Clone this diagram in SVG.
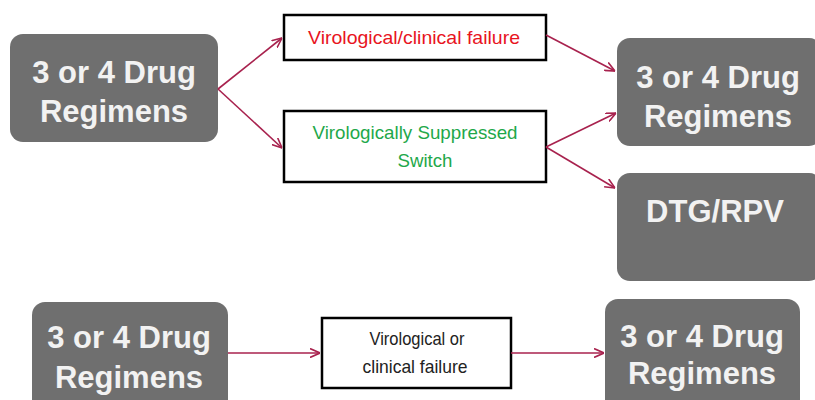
<svg xmlns="http://www.w3.org/2000/svg" width="815" height="400" viewBox="0 0 815 400">
<defs>
<style>
.node rect{fill:#6f6f6f}
.nt{font-family:"Liberation Sans",Arial,sans-serif;font-weight:bold;font-size:31px;fill:#f2f2f2;text-anchor:middle}
.box rect{fill:#fff;stroke:#000;stroke-width:2.5}
.bt{font-family:"Liberation Sans",Arial,sans-serif;font-size:19px;text-anchor:middle}
.conn line{stroke:#a8224e;stroke-width:1.6;fill:none;marker-end:url(#ah)}
</style>
<marker id="ah" viewBox="0 0 10 10" refX="10" refY="5" markerWidth="10" markerHeight="10" markerUnits="userSpaceOnUse" orient="auto">
<path d="M0,0.5 L10,5 L0,9.5" fill="none" stroke="#a8224e" stroke-width="1.6"/>
</marker>
</defs>
<rect width="815" height="400" fill="#fff"/>
<g id="nodeA" class="node">
<rect x="10" y="34" width="208" height="108" rx="13"/>
<text class="nt" x="114" y="83">3 or 4 Drug</text>
<text class="nt" x="114" y="122">Regimens</text>
</g>
<g id="box1" class="box">
<rect x="284" y="15" width="262" height="45"/>
<text class="bt" x="414" y="44" fill="#e8141e" textLength="212" lengthAdjust="spacingAndGlyphs">Virological/clinical failure</text>
</g>
<g id="box2" class="box">
<rect x="284" y="111" width="262" height="71"/>
<text class="bt" x="415" y="139" fill="#1fa84a" textLength="205" lengthAdjust="spacingAndGlyphs">Virologically Suppressed</text>
<text class="bt" x="425" y="167" fill="#1fa84a" textLength="55" lengthAdjust="spacingAndGlyphs">Switch</text>
</g>
<g id="nodeB" class="node">
<rect x="617" y="38" width="205" height="108" rx="13"/>
<text class="nt" x="718" y="88">3 or 4 Drug</text>
<text class="nt" x="718" y="127">Regimens</text>
</g>
<g id="nodeC" class="node">
<rect x="617" y="173" width="205" height="108" rx="13"/>
<text class="nt" x="715" y="222">DTG/RPV</text>
</g>
<g id="nodeD" class="node">
<rect x="32" y="302" width="196" height="120" rx="13"/>
<text class="nt" x="129" y="348" font-size="30">3 or 4 Drug</text>
<text class="nt" x="129" y="388" font-size="30">Regimens</text>
</g>
<g id="box3" class="box">
<rect x="322" y="318" width="189" height="70"/>
<text class="bt" x="417" y="345" fill="#222" font-size="20" textLength="95" lengthAdjust="spacingAndGlyphs">Virological or</text>
<text class="bt" x="415" y="373" fill="#222" font-size="20" textLength="105" lengthAdjust="spacingAndGlyphs">clinical failure</text>
</g>
<g id="nodeE" class="node">
<rect x="605" y="299" width="195" height="120" rx="13"/>
<text class="nt" x="702" y="347" font-size="30">3 or 4 Drug</text>
<text class="nt" x="702" y="384" font-size="30">Regimens</text>
</g>
<g id="connectors" class="conn">
<line x1="218" y1="89" x2="282" y2="38"/>
<line x1="218" y1="89" x2="282" y2="148"/>
<line x1="546" y1="35" x2="615" y2="71"/>
<line x1="546" y1="147" x2="616" y2="113"/>
<line x1="546" y1="147" x2="615" y2="188"/>
<line x1="228" y1="353" x2="320" y2="353"/>
<line x1="511" y1="353" x2="604" y2="353"/>
</g>
</svg>
